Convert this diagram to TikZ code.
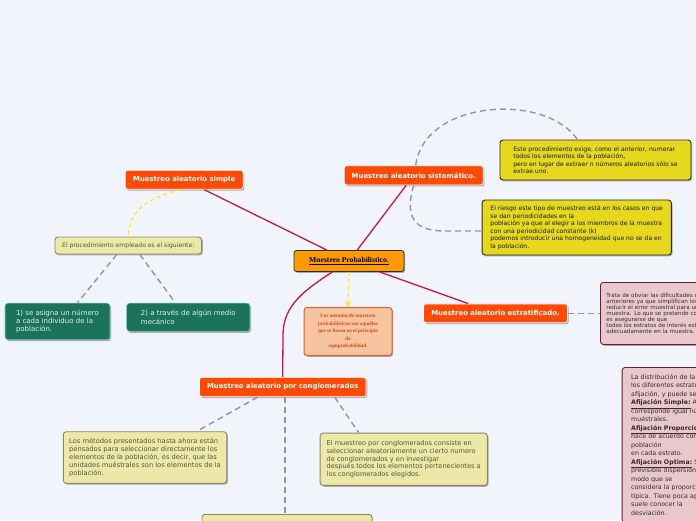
\documentclass[tikz,border=0pt]{standalone}
\usepackage{fontspec}
\setmainfont{Liberation Serif}
\setsansfont{DejaVu Sans}
\usetikzlibrary{shadows,arrows.meta,calc}
\definecolor{bg}{HTML}{F2F4FC}
\definecolor{ttl}{HTML}{FF4A05}
\definecolor{cenf}{HTML}{FF9A00}
\definecolor{crimc}{HTML}{C8174A}
\definecolor{ylinec}{HTML}{FFE53B}
\definecolor{glinec}{HTML}{8E96A3}
\definecolor{peachf}{HTML}{F6C49E}
\definecolor{peachd}{HTML}{EE5A2A}
\definecolor{peacht}{HTML}{E5401A}
\definecolor{palef}{HTML}{ECE8A8}
\definecolor{paled}{HTML}{8B886C}
\definecolor{palet}{HTML}{56563C}
\definecolor{greenf}{HTML}{1B735C}
\definecolor{greend}{HTML}{86CDB8}
\definecolor{greent}{HTML}{E3F2EC}
\definecolor{yelf}{HTML}{E5D81D}
\definecolor{yeld}{HTML}{2B2B2B}
\definecolor{pinkf}{HTML}{E8C8CD}
\definecolor{pinkd}{HTML}{6B1B2D}
\definecolor{pinkt}{HTML}{3A2A2A}
\tikzset{
  shad/.style={drop shadow={shadow xshift=1.2pt,shadow yshift=-1.4pt,opacity=0.3,fill=black}},
  ttlbox/.style={shad, draw=white, line width=0.8pt, fill=ttl, rounded corners=2.5pt, text=white,
    font=\sffamily\bfseries\fontsize{6.9}{8}\selectfont, inner sep=0pt},
  cenbox/.style={shad, draw=yeld, line width=0.8pt, fill=cenf, rounded corners=2.5pt, text=black,
    font=\rmfamily\bfseries\fontsize{7.6}{9}\selectfont, inner sep=0pt},
  peachbox/.style={shad, draw=peachd, line width=1pt, fill=peachf, rounded corners=3pt, text=peacht,
    font=\rmfamily\bfseries\fontsize{5.1}{7.6}\selectfont, align=center, inner sep=0pt},
  palebox/.style={shad, draw=paled, line width=0.9pt, fill=palef, rounded corners=3pt, text=palet,
    align=left, inner sep=0pt},
  greenbox/.style={shad, draw=greend, line width=0.6pt, fill=greenf, rounded corners=3pt, text=greent,
    font=\sffamily\fontsize{7}{8.3}\selectfont, align=left, inner sep=0pt},
  yelbox/.style={shad, draw=yeld, line width=0.9pt, fill=yelf, rounded corners=3pt, text=black!90,
    font=\sffamily\fontsize{6.1}{7.5}\selectfont, align=left, inner sep=0pt},
  pinkbox/.style={shad, draw=pinkd, line width=0.9pt, fill=pinkf, rounded corners=3pt, text=pinkt,
    align=left},
  crim/.style={draw=crimc, line width=1.3pt},
  ydash/.style={draw=ylinec, line width=1.3pt, dash pattern=on 4pt off 3pt},
  gdash/.style={draw=glinec, line width=1.4pt, dash pattern=on 6pt off 4pt},
}
\begin{document}
\begin{tikzpicture}[x=1pt,y=-1pt]
\useasboundingbox (0,0) rectangle (696,520);
\fill[bg] (0,0) rectangle (696,520);
\clip (0,0) rectangle (696,520);

% main nodes
\node[cenbox, minimum width=110pt, minimum height=21pt] (c) at (349,261) {\underline{Muestreo Probabilistico.}};
\node[ttlbox, minimum width=118pt, minimum height=19pt] (s) at (184.2,179.8) {Muestreo aleatorio simple};
\node[ttlbox, minimum width=139pt, minimum height=19.3pt] (t) at (413.7,175.3) {Muestreo aleatorio sistemático.};
\node[ttlbox, minimum width=144pt, minimum height=18.7pt] (e) at (495.5,313.3) {Muestreo aleatorio estratificado.};
\node[ttlbox, minimum width=166.7pt, minimum height=19.4pt] (g) at (282.7,387) {Muestreo aleatorio por conglomerados};

\node[peachbox, minimum width=88pt, minimum height=48pt] (p) at (348,331.5)
  {Los métodos de muestreo\\probabilísticos son aquellos\\que se basan en el principio\\de\\equiprobabilidad.};

\node[palebox, font=\sffamily\fontsize{6.1}{7}\selectfont, minimum width=146.7pt, minimum height=17pt] (pr) at (128.3,245.5)
  {El procedimiento empleado es el siguiente:};

\node[greenbox, minimum width=105pt, minimum height=36.7pt] (g1) at (57.5,321.4)
  {1) se asigna un número\\a cada individuo de la\\población.};
\node[greenbox, minimum width=123.3pt, minimum height=28.3pt] (g2) at (188.3,317.2)
  {2) a través de algún medio\\mecánico};

\node[yelbox, minimum width=191pt, minimum height=40pt] (y1) at (595.5,160)
  {Este procedimiento exige, como el anterior, numerar\\todos los elementos de la población,\\pero en lugar de extraer n números aleatorios sólo se\\extrae uno.};
\node[yelbox, minimum width=189.3pt, minimum height=55pt] (y2) at (576.7,227.5)
  {El riesgo este tipo de muestreo está en los casos en que\\se dan periodicidades en la\\población ya que al elegir a los miembros de la muestra\\con una periodicidad constante (k)\\podemos introducir una homogeneidad que no se da en\\la población.};

\node[pinkbox, anchor=north west, font=\sffamily\fontsize{5.6}{6}\selectfont, text width=190pt, inner xsep=6pt, inner ysep=0pt, minimum height=62pt] (k1) at (600,282)
  {Trata de obviar las dificultades que presentan los\\anteriores ya que simplifican los procesos y suelen\\reducir el error muestral para un tamaño dado de la\\muestra. Lo que se pretende con este tipo de muestreo\\es asegurarse de que\\todos los estratos de interés estarán representados\\adecuadamente en la muestra.};

\node[pinkbox, anchor=north west, font=\sffamily\fontsize{6.3}{8.5}\selectfont, text width=190pt, inner xsep=9pt, inner ysep=7pt] (k2) at (621.7,367)
  {La distribución de la muestra en función de\\los diferentes estratos se denomina\\afijación, y puede ser de diferentes tipos:\\\textbf{\underline{Afijación Simple:}} A cada estrato le\\corresponde igual número de elementos\\muéstrales.\\\textbf{\underline{Afijación Proporcional:}} La distribución se\\hace de acuerdo con el peso (tamaño) de la\\población\\en cada estrato.\\\textbf{\underline{Afijación Optima:}} Se tiene en cuenta la\\previsible dispersión de los resultados, de\\modo que se\\considera la proporción y la desviación\\típica. Tiene poca aplicación ya que no se\\suele conocer la\\desviación.};

\node[palebox, font=\sffamily\fontsize{6.7}{7.9}\selectfont, minimum width=163.4pt, minimum height=51.6pt] (b1) at (145,457.5)
  {Los métodos presentados hasta ahora están\\pensados para seleccionar directamente los\\elementos de la población, es decir, que las\\unidades muéstrales son los elementos de la\\población.};
\node[palebox, font=\sffamily\fontsize{6.6}{7.75}\selectfont, minimum width=167.3pt, minimum height=52.3pt] (b2) at (403.7,459.2)
  {El muestreo por conglomerados consiste en\\seleccionar aleatoriamente un cierto numero\\de conglomerados y en investigar\\después todos los elementos pertenecientes a\\los conglomerados elegidos.};
\node[palebox, anchor=north, minimum width=170pt, minimum height=30pt] (b3) at (287,514) {};

% connectors (drawn on top of background, behind nothing important)
\draw[crim] (c) -- (s);
\draw[crim] (c) -- (t);
\draw[crim] (c) -- (e);
\draw[crim] ($(c.south west)!0.35!(c.south east)$) .. controls (305,290) and (283,305) .. (283,335) -- (g.north);
\draw[ydash, -{Triangle[length=5pt,width=6pt,fill=ylinec]}] (c.south) -- (p.north);
\draw[ydash] ($(s.south)+(-4,0)$) .. controls (140,200) and (129,215) .. (pr.north);
\draw[gdash] ($(pr.south)+(-11.5,0)$) -- ($(g1.north)+(20,0)$);
\draw[gdash] ($(pr.south)+(11.5,0)$) -- ($(g2.north)+(-13,0)$);
\draw[gdash] ($(t.north)+(2,0)$) .. controls (424,100) and (545,92) .. ($(y1.north)+(-18,0)$);
\draw[gdash] (t.south) .. controls (404,218) and (415,231) .. (445,231) -- ($(y2.west)+(0,3.5)$);
\draw[gdash] (e.east) -- (k1.west |- e.east);
\draw[gdash] ($(g.south)+(-25,0)$) -- ($(b1.north)+(52,0)$);
\draw[gdash] ($(g.south)+(52,0)$) -- ($(b2.north)+(-45,0)$);
\draw[gdash] ($(g.south)+(2.3,0)$) -- ($(b3.north)+(-2,0)$);
\end{tikzpicture}
\end{document}
